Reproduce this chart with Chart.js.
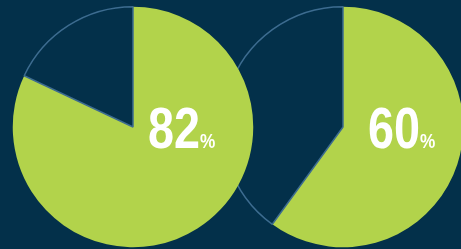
<!DOCTYPE html>
<html>
<head>
<meta charset="utf-8">
<script src="https://cdn.jsdelivr.net/npm/chart.js@4"></script>
<style>
  html, body { margin: 0; padding: 0; }
  body { width: 461px; height: 249px; background: #03304a; position: relative; overflow: hidden; }
  .pie { position: absolute; width: 242px; height: 242px; }
  #pieA { left: 12px; top: 6px; z-index: 2; }
  #pieB { left: 222px; top: 6px; z-index: 1; }
  .label {
    position: absolute; z-index: 3; color: #fff;
    font-family: 'Liberation Sans', Arial, sans-serif; font-weight: bold;
    font-size: 57px; line-height: 57px; white-space: nowrap;
    transform: scaleX(0.82); transform-origin: left top;
  }
  .label span { font-size: 21px; }
</style>
</head>
<body>
<div class="pie" id="pieA"><canvas id="chartA"></canvas></div>
<div class="pie" id="pieB"><canvas id="chartB"></canvas></div>
<div class="label" id="labelA" style="left:148px; top:100px;"></div>
<div class="label" id="labelB" style="left:368px; top:100px;"></div>
<script>
const segments = ['Yes', 'No'];
const firstValues = [82, 18];
const secondValues = [60, 40];

const green = '#b2d34b';
const navy = '#03304a';
const edge = '#3d6c90';

function makePie(id, values) {
    return new Chart(document.getElementById(id).getContext('2d'), {
        type: 'pie',
        data: {
            labels: segments,
            datasets: [{
                data: values,
                backgroundColor: [green, navy],
                borderColor: [green, edge],
                borderWidth: [0, 1.5],
            }]
        },
        options: {
            responsive: true,
            maintainAspectRatio: false,
            animation: false,
            layout: { padding: 0 },
            plugins: {
                legend: { display: false },
                tooltip: { enabled: false },
            },
        }
    });
}

makePie('chartA', firstValues);
makePie('chartB', secondValues);

document.getElementById('labelA').innerHTML = firstValues[0] + '<span>%</span>';
document.getElementById('labelB').innerHTML = secondValues[0] + '<span>%</span>';
</script>
</body>
</html>
